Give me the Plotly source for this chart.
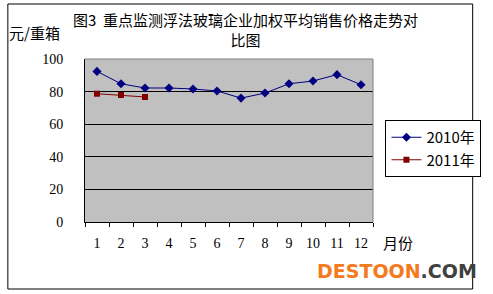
import plotly.graph_objects as go

months = ["1", "2", "3", "4", "5", "6", "7", "8", "9", "10", "11", "12"]
y2010 = [92.4, 84.8, 82.2, 82.2, 81.6, 80.4, 76.0, 79.1, 84.8, 86.5, 90.4, 84.2]
months2011 = ["1", "2", "3"]
y2011 = [78.7, 77.9, 76.7]
yticks = [0, 20, 40, 60, 80, 100]

W, H = 493, 294
L, R, T, B = 84.5, 108, 59, 72
pw = W - L - R
ph = H - T - B

def px(x):
    return (x - L) / pw

def py(y):
    return (H - B - y) / ph

cjk = "Noto Sans CJK SC"
numf = "Liberation Serif"

fig = go.Figure()
fig.add_trace(go.Scatter(
    x=months, y=y2010, name="2010年", mode="lines+markers",
    line=dict(color="#000080", width=1),
    marker=dict(symbol="diamond", size=7, color="#000080"),
))
fig.add_trace(go.Scatter(
    x=months2011, y=y2011, name="2011年", mode="lines+markers",
    line=dict(color="#800000", width=1),
    marker=dict(symbol="square", size=6, color="#800000"),
))

fig.update_layout(
    width=W, height=H,
    margin=dict(l=L, r=R, t=T, b=B),
    paper_bgcolor="white",
    plot_bgcolor="#c0c0c0",
    showlegend=True,
    legend=dict(
        x=px(398), y=py(120), xanchor="left", yanchor="top",
        bgcolor="white", bordercolor="black", borderwidth=1,
        font=dict(family=cjk, size=15, color="black"),
        tracegroupgap=0, itemwidth=30,
    ),
    xaxis=dict(
        type="category", categoryorder="array", categoryarray=months,
        range=[-0.5, 11.5],
        showline=True, linecolor="black", linewidth=1,
        ticks="outside", tickson="boundaries", ticklen=4, tickcolor="black",
        showgrid=False,
        tickfont=dict(family=numf, size=14, color="black"),
        ticklabelstandoff=8,
    ),
    yaxis=dict(
        range=[0, 100], tickvals=yticks,
        showline=True, linecolor="black", linewidth=1,
        showgrid=True, gridcolor="black", gridwidth=1,
        ticks="", zeroline=False,
        tickfont=dict(family=numf, size=14, color="black"),
        ticklabelstandoff=18,
    ),
    shapes=[
        dict(type="rect", xref="paper", yref="paper",
             x0=px(4), x1=px(489), y0=py(289), y1=py(4),
             line=dict(color="black", width=1), fillcolor="rgba(0,0,0,0)"),
        dict(type="line", xref="paper", yref="paper",
             x0=0, x1=1, y0=1, y1=1, line=dict(color="#808080", width=1)),
        dict(type="line", xref="paper", yref="paper",
             x0=1, x1=1, y0=0, y1=1, line=dict(color="#808080", width=1)),
    ],
    annotations=[
        dict(text="图3  重点监测浮法玻璃企业加权平均销售价格走势对<br>比图",
             xref="paper", yref="paper", x=px(252), y=py(30),
             xanchor="center", yanchor="middle", showarrow=False,
             font=dict(family=cjk, size=15, color="black")),
        dict(text="元/重箱", xref="paper", yref="paper", x=px(3), y=py(32),
             xanchor="left", yanchor="middle", showarrow=False,
             font=dict(family=cjk, size=15, color="black")),
        dict(text="月份", xref="paper", yref="paper", x=px(393), y=py(242),
             xanchor="left", yanchor="middle", showarrow=False,
             font=dict(family=cjk, size=15, color="black")),
        dict(text="<b><span style='color:#f47a20'>DESTOON</span><span style='color:#404040'>.COM</span></b>",
             xref="paper", yref="paper", x=px(325), y=py(271),
             xanchor="left", yanchor="middle", showarrow=False,
             font=dict(family="DejaVu Sans", size=19)),
    ],
)

fig.write_html("out.html")
